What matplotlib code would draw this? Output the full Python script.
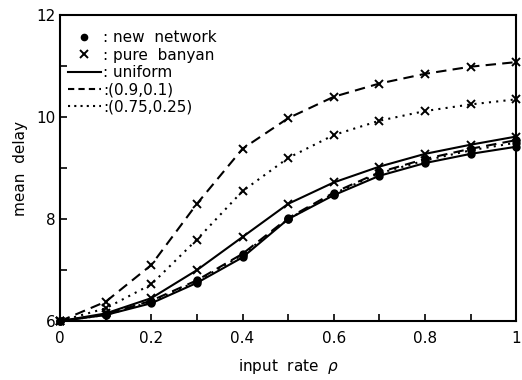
import matplotlib
matplotlib.use("Agg")
import matplotlib.pyplot as plt
from matplotlib.lines import Line2D

rho = [0.0, 0.1, 0.2, 0.3, 0.4, 0.5, 0.6, 0.7, 0.8, 0.9, 1.0]

# pure banyan (x markers)
banyan_uniform = [6.0, 6.15, 6.45, 7.0, 7.65, 8.3, 8.72, 9.03, 9.28, 9.46, 9.62]
banyan_09 = [6.0, 6.38, 7.1, 8.3, 9.38, 9.98, 10.4, 10.66, 10.85, 10.99, 11.08]
banyan_075 = [6.0, 6.25, 6.72, 7.6, 8.55, 9.2, 9.65, 9.93, 10.12, 10.25, 10.35]

# new network (dot markers)
new_uniform = [6.0, 6.12, 6.35, 6.75, 7.25, 8.0, 8.47, 8.85, 9.1, 9.28, 9.42]
new_09 = [6.0, 6.13, 6.4, 6.8, 7.32, 8.02, 8.52, 8.92, 9.18, 9.38, 9.55]
new_075 = [6.0, 6.12, 6.38, 6.78, 7.3, 8.0, 8.5, 8.9, 9.15, 9.35, 9.5]

plt.rcParams["font.family"] = ["DejaVu Sans"]

fig = plt.figure(figsize=(5.22, 3.8), dpi=100)
ax = fig.add_axes([0.115, 0.155, 0.874, 0.805])

styles = {"uniform": "-", "09": (0, (5, 3)), "075": (0, (1, 2.5))}
kw = dict(color="black", lw=1.5, clip_on=False)

ax.plot(rho, banyan_uniform, linestyle=styles["uniform"], marker="x", ms=6, mew=1.4, **kw)
ax.plot(rho, banyan_09, linestyle=styles["09"], marker="x", ms=6, mew=1.4, **kw)
ax.plot(rho, banyan_075, linestyle=styles["075"], marker="x", ms=6, mew=1.4, **kw)
ax.plot(rho, new_uniform, linestyle=styles["uniform"], marker="o", ms=5, **kw)
ax.plot(rho, new_09, linestyle=styles["09"], marker="o", ms=5, **kw)
ax.plot(rho, new_075, linestyle=styles["075"], marker="o", ms=5, **kw)

ax.set_xlim(0, 1)
ax.set_ylim(6, 12)
ax.set_xticks([0, 0.1, 0.2, 0.3, 0.4, 0.5, 0.6, 0.7, 0.8, 0.9, 1.0])
ax.set_xticklabels(["0", "", "0.2", "", "0.4", "", "0.6", "", "0.8", "", "1"])
ax.set_yticks([6, 7, 8, 9, 10, 11, 12])
ax.set_yticklabels(["6", "", "8", "", "10", "", "12"])
ax.tick_params(direction="in", length=5, width=1.2, labelsize=11)
ax.tick_params(axis="x", pad=7)
for s in ax.spines.values():
    s.set_linewidth(1.5)

ax.set_xlabel("input  rate  $\\rho$", fontsize=11, labelpad=8)
ax.set_ylabel("mean  delay", fontsize=11, labelpad=6)

handles = [
    Line2D([], [], color="black", marker="o", ms=4.5, linestyle="none"),
    Line2D([], [], color="black", marker="x", ms=6, mew=1.4, linestyle="none"),
    Line2D([], [], color="black", lw=1.5, linestyle="-"),
    Line2D([], [], color="black", lw=1.5, linestyle=(0, (3, 2))),
    Line2D([], [], color="black", lw=1.5, linestyle=(0, (1, 2))),
]
labels = [": new  network", ": pure  banyan", ": uniform", ":(0.9,0.1)", ":(0.75,0.25)"]
ax.legend(handles, labels, loc="upper left", bbox_to_anchor=(-0.01, 0.99), frameon=False,
          fontsize=11, handlelength=2.2, handletextpad=0.1, labelspacing=0.15,
          borderpad=0.3)

fig.savefig("out.png", dpi=100)
